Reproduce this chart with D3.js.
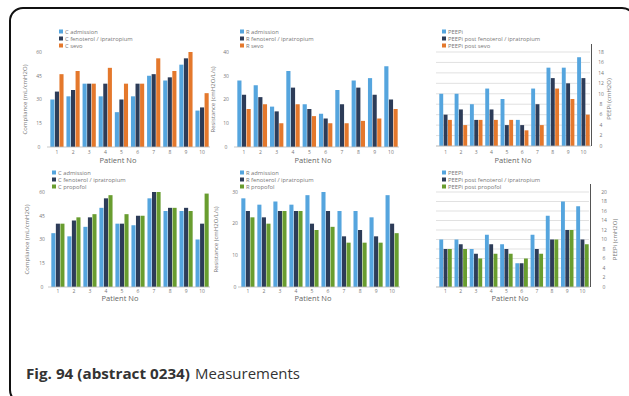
<!DOCTYPE html>
<html><head><meta charset="utf-8">
<script src="https://cdn.jsdelivr.net/npm/d3@7"></script>
<style>
html,body{margin:0;padding:0;background:#fff;}
svg{display:block;}
text{font-family:"Open Sans","Liberation Sans",sans-serif;}
</style></head>
<body>
<svg id="chart" width="629" height="396"></svg>
<script>
// ---------- data ----------
const patients = ["1","2","3","4","5","6","7","8","9","10"];

const complianceTicks = [0,15,30,45,60];
const resistanceTicksTop = [0,10,20,30,40];
const resistanceTicksBottom = [0,10,20,30];
const peepTicksTop = [0,2,4,6,8,10,12,14,16,18];
const peepTicksBottom = [0,2,4,6,8,10,12,14,16,18,20];

// Top row: sevoflurane
const cAdmissionA = [30,32,40,32,22,32,45,42,52,23];
const cFenoA      = [35,36,40,40,30,40,46,44,56,25];
const cSevo       = [46,48,40,50,40,40,56,48,60,34];

const rAdmissionA = [28,26,17,32,18,14,24,28,29,34];
const rFenoA      = [22,21,15,25,16,12,18,25,22,20];
const rSevo       = [16,18,10,18,13,10,10,11,12,16];

const peepiA      = [10,10,8,11,9,5,11,15,15,17];
const peepiFenoA  = [6,7,5,7,4,4,8,13,12,13];
const peepiSevo   = [5,4,5,5,5,3,4,11,9,6];

// Bottom row: propofol
const cAdmissionB = [34,32,38,50,40,39,56,48,48,30];
const cFenoB      = [40,42,44,56,40,45,60,50,50,40];
const cPropofol   = [40,44,46,58,46,45,60,50,48,59];

const rAdmissionB = [28,26,27,26,29,30,24,24,22,29];
const rFenoB      = [24,22,24,24,20,24,16,18,16,20];
const rPropofol   = [22,20,24,24,18,19,14,14,14,17];

const peepiB      = [10,10,8,11,9,5,11,15,18,17];
const peepiFenoB  = [8,9,7,9,8,5,8,10,12,10];
const peepiProp   = [8,8,6,7,7,6,7,10,12,9];

// ---------- style ----------
const colLight = "#55a5de";
const colDark  = "#2d3c58";
const colOrange= "#e4782c";
const colGreen = "#699d2f";

const svg = d3.select("#chart");

// frame
svg.append("rect").attr("x",10).attr("y",8).attr("width",625).attr("height",395)
  .attr("rx",13).attr("fill","none").attr("stroke","#111").attr("stroke-width",2);

const panels = [
  {x0:50,x1:209,y0:147,y1:52,max:60,ticks:complianceTicks,side:"left",tickX:39,titleX:27,
   title:"Compliance (mL/cmH2O)",legX:59,legY:32,xlabX:118,xlabY:163,tickY:153.5,
   series:[cAdmissionA,cFenoA,cSevo],names:["C admission","C fenoterol / ipratropium","C sevo"],
   colors:[colLight,colDark,colOrange],grid:false},
  {x0:237,x1:398,y0:147,y1:52,max:40,ticks:resistanceTicksTop,side:"left",tickX:226,titleX:215,
   title:"Resistance (cmH2O/L/s)",legX:240,legY:32,xlabX:313,xlabY:163,tickY:153.5,
   series:[rAdmissionA,rFenoA,rSevo],names:["R admission","R fenoterol / ipratropium","R sevo"],
   colors:[colLight,colDark,colOrange],grid:false},
  {x0:439,x1:590,y0:146,y1:52,max:18,ticks:peepTicksTop,side:"right",tickX:601,titleX:611,
   title:"PEEPi (cmH2O)",legX:442,legY:32,xlabX:513,xlabY:163,tickY:153.5,
   series:[peepiA,peepiFenoA,peepiSevo],names:["PEEPi","PEEPi post fenoterol / ipratropium","PEEPi post sevo"],
   colors:[colLight,colDark,colOrange],grid:true},
  {x0:51,x1:209,y0:287,y1:192,max:60,ticks:complianceTicks,side:"left",tickX:42,titleX:29,
   title:"Compliance (mL/cmH2O)",legX:52,legY:173,xlabX:120,xlabY:301,tickY:292.5,
   series:[cAdmissionB,cFenoB,cPropofol],names:["C admission","C fenoterol / ipratropium","C propofol"],
   colors:[colLight,colDark,colGreen],grid:false},
  {x0:241,x1:399,y0:287,y1:192,max:30,ticks:resistanceTicksBottom,side:"left",tickX:235,titleX:218,
   title:"Resistance (cmH2O/L/s)",legX:240,legY:173,xlabX:313,xlabY:301,tickY:292.5,
   series:[rAdmissionB,rFenoB,rPropofol],names:["R admission","R fenoterol / ipratropium","R propofol"],
   colors:[colLight,colDark,colGreen],grid:false},
  {x0:439,x1:589,y0:287,y1:192,max:20,ticks:peepTicksBottom,side:"right",tickX:604,titleX:617,
   title:"PEEPi (cmH2O)",legX:442,legY:173,xlabX:510,xlabY:301,tickY:292.5,
   series:[peepiB,peepiFenoB,peepiProp],names:["PEEPi","PEEPi post fenoterol / ipratropium","PEEPi post propofol"],
   colors:[colLight,colDark,colGreen],grid:true}
];

panels.forEach(p=>{
  const g = svg.append("g");
  const x = d3.scaleBand().domain(patients).range([p.x0,p.x1]).paddingInner(0.18).paddingOuter(0.02);
  const xs = d3.scaleBand().domain(d3.range(p.series.length)).range([0,x.bandwidth()]).paddingInner(0.1);
  const y = d3.scaleLinear().domain([0,p.max]).range([p.y0,p.y1]);

  if(p.grid){
    g.selectAll(".grid").data(p.ticks).enter().append("line")
      .attr("x1",p.x0-3).attr("x2",p.x1).attr("y1",d=>y(d)).attr("y2",d=>y(d))
      .attr("stroke","#d4d4d4").attr("stroke-width",0.7);
  }

  p.series.forEach((s,si)=>{
    g.selectAll(".b"+si).data(s).enter().append("rect")
      .attr("x",(d,i)=>x(patients[i])+xs(si))
      .attr("width",xs.bandwidth())
      .attr("y",d=>y(d))
      .attr("height",d=>y(0)-y(d))
      .attr("fill",p.colors[si]);
  });

  // baseline
  g.append("line").attr("x1",p.x0-3).attr("x2",p.x1+1).attr("y1",p.y0).attr("y2",p.y0)
    .attr("stroke","#bbb").attr("stroke-width",0.8);
  if(p.side==="right"){
    g.append("line").attr("x1",p.x1+1.5).attr("x2",p.x1+1.5).attr("y1",p.y0).attr("y2",p.y1-8)
      .attr("stroke","#555").attr("stroke-width",1);
  }

  // y tick labels
  g.selectAll(".yt").data(p.ticks).enter().append("text")
    .attr("x",p.tickX).attr("y",d=>y(d)+1.8)
    .attr("text-anchor","middle").attr("font-size",5).attr("fill","#777").text(d=>d);

  // x tick labels
  g.selectAll(".xt").data(patients).enter().append("text")
    .attr("x",d=>x(d)+x.bandwidth()/2).attr("y",p.tickY)
    .attr("text-anchor","middle").attr("font-size",5).attr("fill","#777").text(d=>d);

  // x title
  g.append("text").attr("x",p.xlabX).attr("y",p.xlabY).attr("text-anchor","middle")
    .attr("font-size",7.5).attr("fill","#666").text("Patient No");

  // y title
  const cy = (p.y0+p.y1)/2;
  g.append("text").attr("transform",`translate(${p.titleX},${cy}) rotate(-90)`)
    .attr("text-anchor","middle").attr("font-size",6).attr("fill","#777").text(p.title);

  // legend
  p.names.forEach((n,i)=>{
    g.append("rect").attr("x",p.legX).attr("y",p.legY+i*7-2.5).attr("width",4).attr("height",4)
      .attr("fill",p.colors[i]);
    g.append("text").attr("x",p.legX+6).attr("y",p.legY+i*7+1.6)
      .attr("font-size",5.8).attr("fill","#777").text(n);
  });
});

// caption
svg.append("text").attr("x",26).attr("y",379).attr("font-size",14).attr("font-weight","bold")
  .attr("fill","#333").attr("font-family","Liberation Sans, Arial, sans-serif")
  .attr("textLength",164).attr("lengthAdjust","spacingAndGlyphs").text("Fig. 94 (abstract 0234)");
svg.append("text").attr("x",195).attr("y",379).attr("font-size",14)
  .attr("fill","#333").attr("font-family","Liberation Sans, Arial, sans-serif")
  .attr("textLength",105).attr("lengthAdjust","spacingAndGlyphs").text("Measurements");
</script>
</body></html>
